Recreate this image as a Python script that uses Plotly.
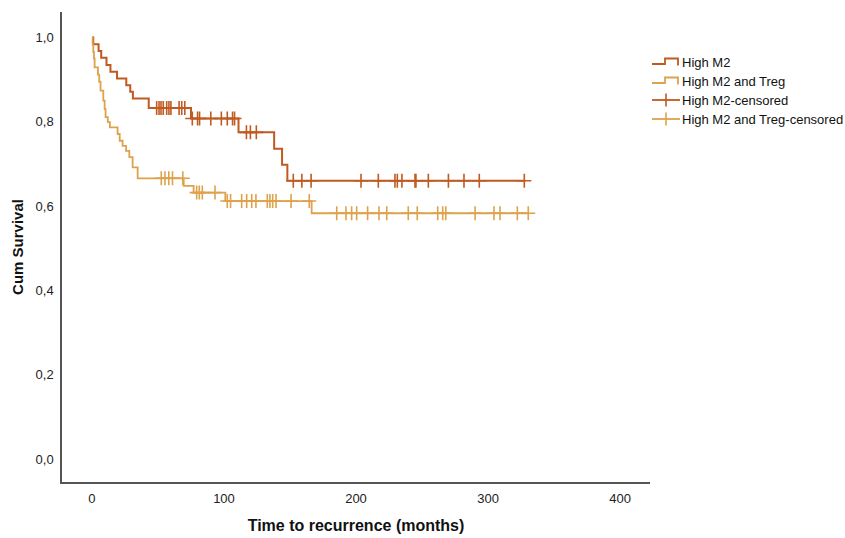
import numpy as np
import plotly.graph_objects as go

# ---- data (Kaplan-Meier step points) ----
m2_times = [0, 1, 5, 7, 11, 14, 19, 26, 29, 31, 43, 75, 111, 138, 144, 148]
m2_surv = [1.0, 0.984, 0.968, 0.952, 0.935, 0.919, 0.903, 0.887, 0.871, 0.855,
           0.833, 0.808, 0.775, 0.736, 0.698, 0.660]
m2_censor = [49, 50.8, 52.3, 54, 56.6, 58.3, 59.8, 66, 68, 70.3,
             76, 80, 81.5, 90, 98, 102.5, 106.5, 108,
             117, 120, 124.5,
             152.5, 159, 166, 203.8, 216.9, 229.5, 231.3, 234.8, 244.7, 245.4,
             254.8, 270, 281.8, 293.4, 327.5]

treg_times = [0, 0.5, 1.0, 1.5, 2.0, 4.5, 5.5, 6.5, 8.6, 9.6, 10.3, 12.0, 13.6,
              19.4, 21.0, 23.2, 25.8, 28.3, 30.8, 34.6, 69.5, 77, 101, 166.4]
treg_surv = [1.0, 0.983, 0.966, 0.95, 0.929, 0.912, 0.895, 0.874, 0.850, 0.830,
             0.811, 0.799, 0.787, 0.771, 0.755, 0.743, 0.731, 0.716, 0.692, 0.666,
             0.648, 0.632, 0.612, 0.583]
treg_censor = [52.5, 55.3, 58.2, 61, 68.8,
               79.3, 81.3, 83.6, 93.2,
               102.5, 105, 113.4, 117.2, 121, 124.2, 132.8, 134.8, 136.9, 139.4,
               150.8, 164.6,
               185.4, 192.4, 196.7, 200.5, 208.8, 217.4, 223.3, 239.6, 246.4,
               261.9, 265.7, 268, 290.2, 304.5, 309.1, 322.2, 330.5]

series_names = ["High M2", "High M2 and Treg"]
legend_labels = ["High M2", "High M2 and Treg", "High M2-censored", "High M2 and Treg-censored"]
colors = ["#BF5A21", "#DEA24C"]

x_ticks = [0, 100, 200, 300, 400]
y_ticks = [0.0, 0.2, 0.4, 0.6, 0.8, 1.0]

# figure geometry
W, H = 845, 538
ML, MR, MT, MB = 62, 195, 12, 56
PW, PH = W - ML - MR, H - MT - MB


def px2x(px):
    return (px - ML) / PW


def py2y(py):
    return 1 - (py - MT) / PH


def surv_at(times, surv, t):
    idx = np.searchsorted(np.array(times), t, side="right") - 1
    return float(np.array(surv)[idx])


def gapped(xs, ys):
    gx, gy = [], []
    for a, b in zip(xs, ys):
        gx += [a, None]
        gy += [b, None]
    return gx, gy


fig = go.Figure()
groups = [(m2_times, m2_surv, m2_censor, 2.0), (treg_times, treg_surv, treg_censor, 1.8)]
for (times, surv, cens, lw), name, col in zip(groups, series_names, colors):
    end = max(cens)
    fig.add_trace(go.Scatter(
        x=list(times) + [end], y=list(surv) + [surv[-1]],
        mode="lines", line=dict(shape="hv", color=col, width=lw),
        name=name, hoverinfo="skip"))

for (times, surv, cens, lw), name, col in zip(groups, series_names, colors):
    cy = [surv_at(times, surv, t) for t in cens]
    gx, gy = gapped(cens, cy)
    fig.add_trace(go.Scatter(
        x=gx, y=gy, mode="markers",
        marker=dict(symbol="cross-thin", size=10, color=col,
                    line=dict(color=col, width=1.6)),
        name=name + "-censored", hoverinfo="skip"))

# ---- legend drawn as glyphs + text (SPSS style) ----
row_y = [62, 81, 100, 119]
shapes, annotations = [], []
for i, label in enumerate(legend_labels):
    col = colors[i % 2]
    yc = row_y[i]
    if i < 2:
        path = "M {},{} L {},{} L {},{} L {},{} L {},{}".format(
            px2x(652), py2y(yc + 2), px2x(665), py2y(yc + 2),
            px2x(665), py2y(yc - 3.5), px2x(678), py2y(yc - 3.5),
            px2x(678), py2y(yc + 3.5))
        shapes.append(dict(type="path", xref="paper", yref="paper", path=path,
                           line=dict(color=col, width=1.8)))
    else:
        shapes.append(dict(type="line", xref="paper", yref="paper",
                           x0=px2x(652), x1=px2x(680), y0=py2y(yc), y1=py2y(yc),
                           line=dict(color=col, width=1.8)))
        shapes.append(dict(type="line", xref="paper", yref="paper",
                           x0=px2x(666), x1=px2x(666), y0=py2y(yc - 6.5), y1=py2y(yc + 6.5),
                           line=dict(color=col, width=1.6)))
    annotations.append(dict(text=label, xref="paper", yref="paper",
                            x=px2x(680), y=py2y(yc), xanchor="left", yanchor="middle",
                            showarrow=False, font=dict(size=13, color="#111")))

axis_font = dict(family="Liberation Sans, Arial, sans-serif", size=13, color="#222")
fig.update_layout(
    width=W, height=H, autosize=False,
    margin=dict(l=ML, r=MR, t=MT, b=MB),
    paper_bgcolor="white", plot_bgcolor="white",
    separators=",.",
    font=dict(family="Liberation Sans, Arial, sans-serif", color="#111"),
    showlegend=False,
    shapes=shapes, annotations=annotations,
    xaxis=dict(range=[-22.7, 422.7], tickvals=x_ticks, tickformat="d",
               showgrid=False, zeroline=False, showline=True, automargin=False,
               linecolor="#555", linewidth=1.5, ticks="", tickfont=axis_font,
               ticklabelstandoff=4,
               title=dict(text="<b>Time to recurrence (months)</b>",
                          font=dict(size=16, color="#111"), standoff=14)),
    yaxis=dict(range=[-0.0546, 1.0605], tickvals=y_ticks, tickformat=".1f",
               showgrid=False, zeroline=False, showline=True, automargin=False,
               linecolor="#555", linewidth=1.5, ticks="", tickfont=axis_font,
               ticklabelstandoff=4,
               title=dict(text="<b>Cum Survival</b>",
                          font=dict(size=15, color="#111"), standoff=8)),
)

fig.write_html(
    "out.html",
    config={"responsive": False, "displayModeBar": False},
    post_script="document.body.style.margin='0';document.body.style.overflow='hidden';",
)
